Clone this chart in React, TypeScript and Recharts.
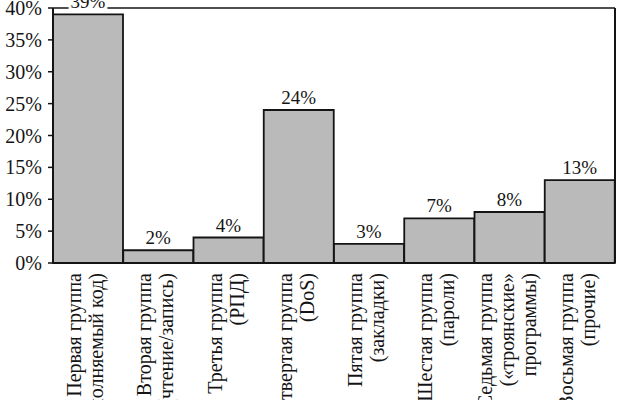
import React from "react";
import { BarChart, Bar, XAxis, YAxis, CartesianGrid, LabelList } from "recharts";

const categories = [
  "Первая группа\n(выполняемый код)",
  "Вторая группа\n(чтение/запись)",
  "Третья группа\n(РПД)",
  "Четвертая группа\n(DoS)",
  "Пятая группа\n(закладки)",
  "Шестая группа\n(пароли)",
  "Седьмая группа\n(«троянские»\nпрограммы)",
  "Восьмая группа\n(прочие)",
];
const shares = [39, 2, 4, 24, 3, 7, 8, 13];
const yTicks = [0, 5, 10, 15, 20, 25, 30, 35, 40];

const data = categories.map((name, i) => ({ name, value: shares[i] }));

const FONT = '"Liberation Serif", "Times New Roman", serif';
const INK = "#141414";

function CategoryTick(props: any) {
  const { x, y, payload } = props;
  const lines = String(payload.value).split("\n");
  const n = lines.length;
  return (
    <g transform={`translate(${x},${y})`}>
      <text transform="rotate(-90)" textAnchor="end" fontFamily={FONT} fontSize={20} fill={INK}>
        {lines.map((l, i) => (
          <tspan key={i} x={0} y={(i - (n - 1) / 2) * 22 + 4}>
            {l}
          </tspan>
        ))}
      </text>
    </g>
  );
}

function ValueLabel(props: any) {
  const { x, y, width, value } = props;
  const label = `${value}%`;
  const fs = 19;
  const w = (String(value).length * 0.5 + 0.833) * fs;
  const cx = x + width / 2;
  const base = y - 6;
  return (
    <g>
      <rect x={cx - w / 2 - 2} y={base - 14} width={w + 4} height={16} fill="#ffffff" />
      <text x={cx} y={base} textAnchor="middle" fontFamily={FONT} fontSize={fs} fill={INK}>
        {label}
      </text>
    </g>
  );
}

export default function App() {
  return (
    <div style={{ position: "absolute", left: 0, top: 0, background: "#fff" }}>
      <BarChart
        width={623}
        height={400}
        data={data}
        margin={{ top: 8, right: 0, bottom: 0, left: 0 }}
        barCategoryGap={0}
      >
        <CartesianGrid vertical={false} stroke={INK} strokeWidth={1.6} />
        <XAxis
          dataKey="name"
          height={137}
          interval={0}
          tickLine={false}
          tickSize={0}
          tickMargin={10}
          axisLine={{ stroke: INK, strokeWidth: 2 }}
          tick={<CategoryTick />}
        />
        <YAxis
          yAxisId="left"
          width={53}
          domain={[0, 40]}
          ticks={yTicks}
          interval={0}
          tickFormatter={(v: number) => `${v}%`}
          tickSize={5}
          tickMargin={6}
          tickLine={{ stroke: INK, strokeWidth: 1.5 }}
          axisLine={{ stroke: INK, strokeWidth: 2 }}
          tick={{ fontFamily: FONT, fontSize: 20, fill: INK }}
        />
        <YAxis
          yAxisId="right"
          orientation="right"
          width={8}
          domain={[0, 40]}
          tick={false}
          tickLine={false}
          axisLine={{ stroke: INK, strokeWidth: 2 }}
        />
        <Bar
          yAxisId="left"
          dataKey="value"
          fill="#bababa"
          stroke={INK}
          strokeWidth={1.8}
          isAnimationActive={false}
        >
          <LabelList dataKey="value" content={<ValueLabel />} />
        </Bar>
      </BarChart>
    </div>
  );
}
